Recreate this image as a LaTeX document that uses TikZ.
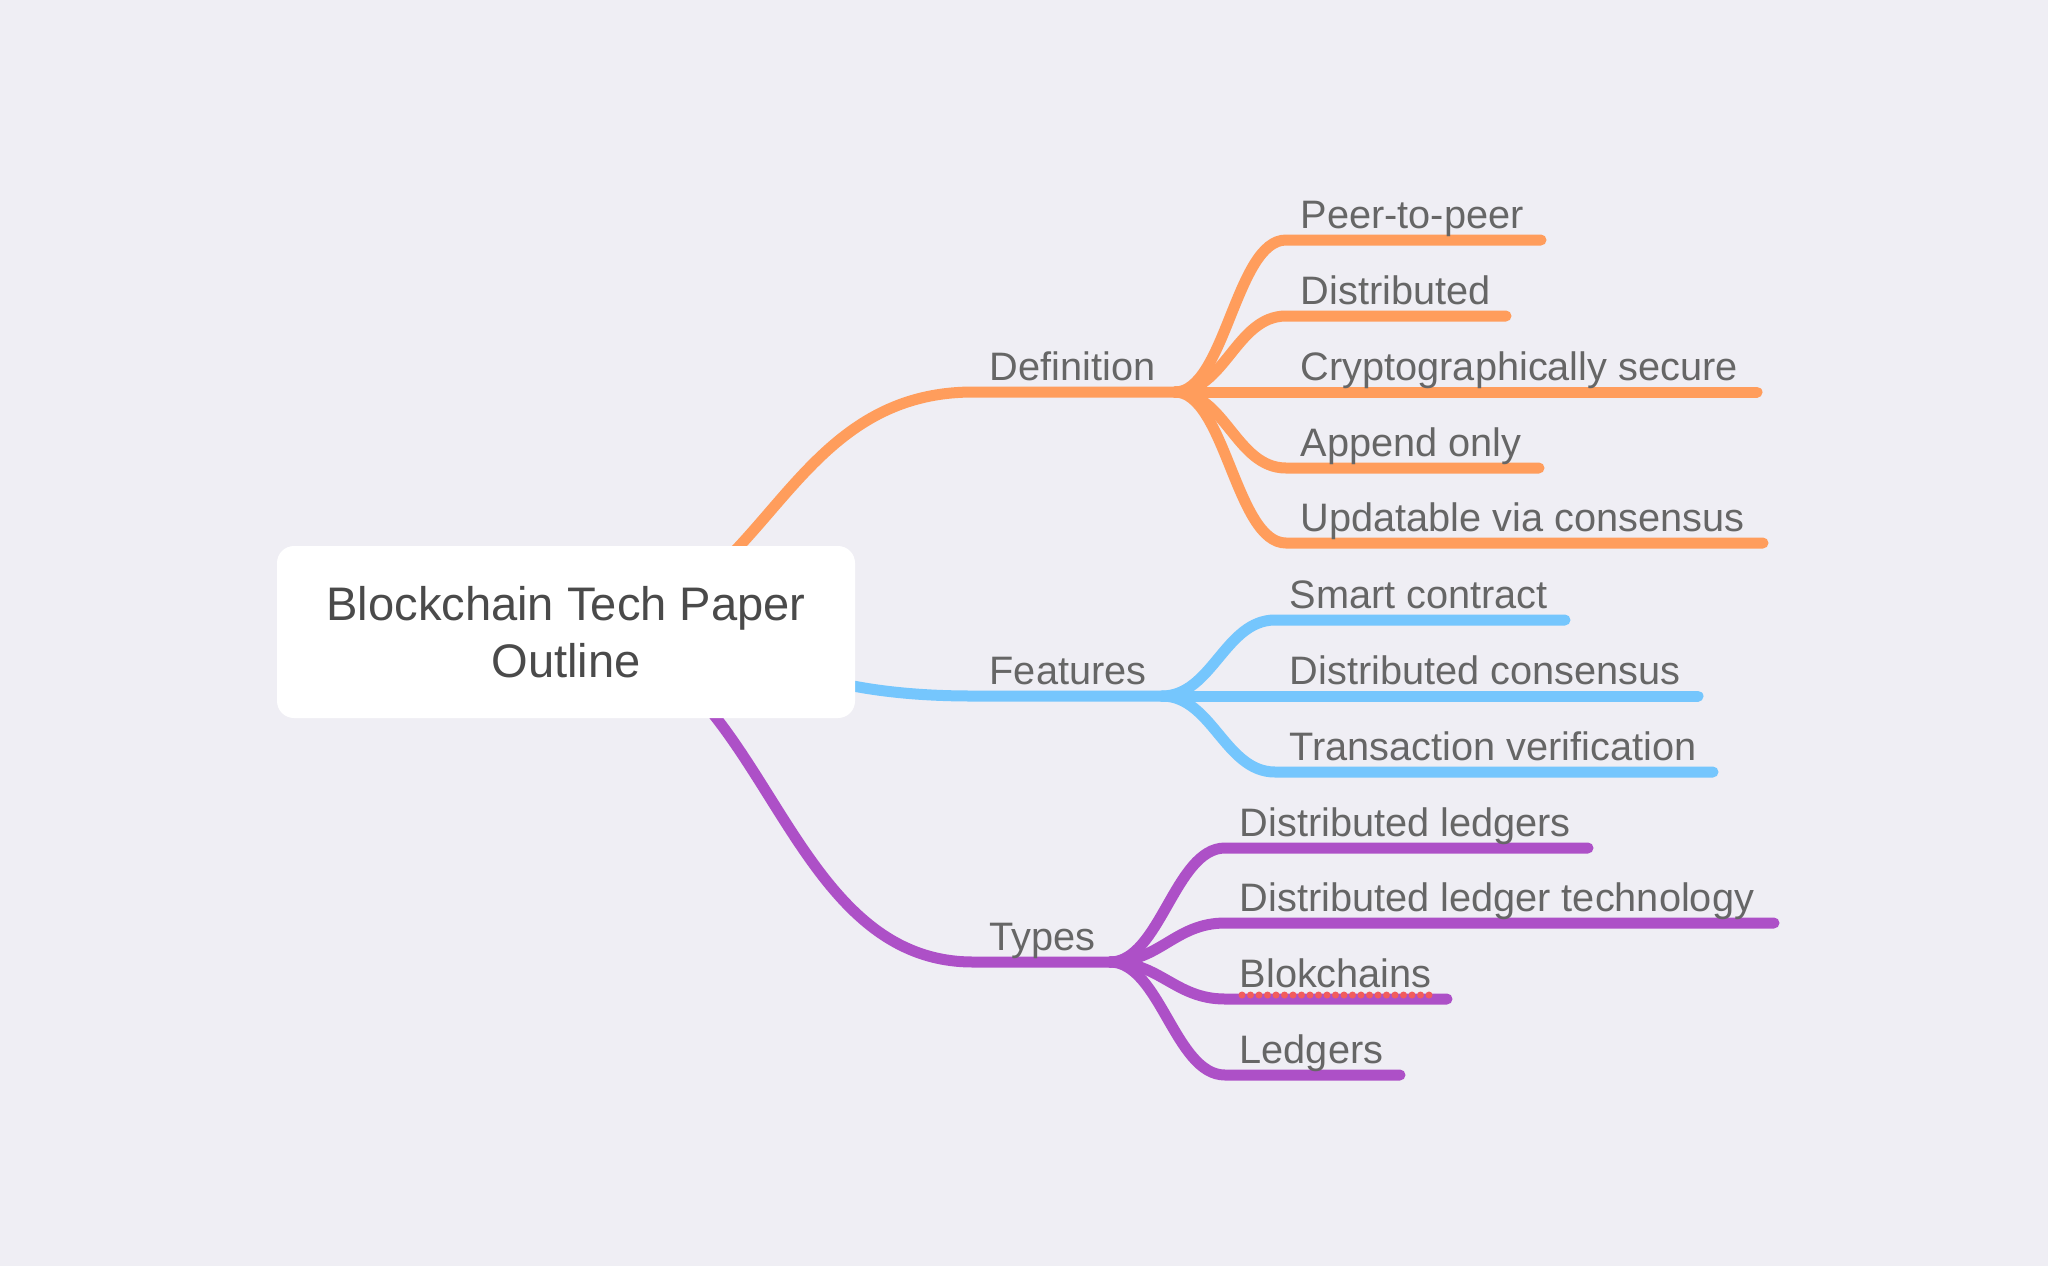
\documentclass[tikz,border=0pt]{standalone}
\usepackage{fontspec}
\setmainfont{Liberation Sans}
\usetikzlibrary{positioning, calc}
\definecolor{bgcol}{HTML}{EFEEF4}
\definecolor{defcol}{HTML}{FF9D5C}
\definecolor{featcol}{HTML}{75C6FD}
\definecolor{typecol}{HTML}{AD50C7}
\definecolor{topicgray}{HTML}{666666}
\definecolor{rootgray}{HTML}{4A4A4A}
\definecolor{spellred}{HTML}{F25C5C}
\pgfdeclarelayer{back}
\pgfdeclarelayer{lines}
\pgfsetlayers{back,lines,main}
\tikzstyle{branch} = [line width=0.11cm, line cap=round]
\tikzstyle{topic} = [anchor=base west, inner sep=0pt, text=topicgray, font=\fontsize{11.3}{13.6}\selectfont]
\tikzstyle{rootbox} = [fill=white, rounded corners=0.17cm, minimum width=5.78cm, minimum height=1.72cm, align=center, text=rootgray, font=\fontsize{13.4}{16.3}\selectfont]
\tikzstyle{spell} = [spellred, line width=0.07cm, line cap=round, dash pattern=on 0pt off 0.085cm]

\begin{document}
\begin{tikzpicture}

	\begin{pgfonlayer}{back}
	\fill[bgcol] (0,0) rectangle (20.48,-12.66);
	\end{pgfonlayer}

	\node[rootbox] (outline) at (5.66,-6.32) {Blockchain Tech Paper\\Outline};

	\coordinate (def) at (9.73,-3.92);
	\coordinate (feat) at (9.73,-6.96);
	\coordinate (types) at (9.73,-9.62);

	\newcommand{\TOPIC}[4]{\node[topic] (#2-text) at ($ (#2) + (0.16,0.12) $) {#4};\begin{pgfonlayer}{lines}\draw[branch,#1] (outline.center) .. controls ($ (outline.center) + (2,0) $) and ($ (#2) + (-2,0) $) .. (#2) -- (#3,0 |- #2) coordinate (#2-join);\end{pgfonlayer}}

	\newcommand{\LEAF}[6]{\coordinate (#3) at (#4);\node[topic] (#3-text) at ($ (#3) + (0.14,0.12) $) {#6};\begin{pgfonlayer}{lines}\draw[branch,#1] (#2) .. controls ($ (#2) + (0.5,0) $) and ($ (#3) + (-0.5,0) $) .. (#3) -- (#5,0 |- #3);\end{pgfonlayer}}

	\TOPIC{defcol}{def}{11.75}{Definition}
	\TOPIC{featcol}{feat}{11.62}{Features}
	\TOPIC{typecol}{types}{11.10}{Types}

	\LEAF{defcol}{def-join}{peer}{12.86,-2.40}{15.41}{Peer-to-peer}
	\LEAF{defcol}{def-join}{distr}{12.86,-3.16}{15.06}{Distributed}
	\LEAF{defcol}{def-join}{crypto}{12.86,-3.92}{17.57}{Cryptographically secure}
	\LEAF{defcol}{def-join}{append}{12.86,-4.68}{15.39}{Append only}
	\LEAF{defcol}{def-join}{update}{12.86,-5.43}{17.63}{Updatable via consensus}

	\LEAF{featcol}{feat-join}{smart}{12.75,-6.20}{15.65}{Smart contract}
	\LEAF{featcol}{feat-join}{consensus}{12.75,-6.96}{16.98}{Distributed consensus}
	\LEAF{featcol}{feat-join}{verify}{12.75,-7.72}{17.13}{Transaction verification}

	\LEAF{typecol}{types-join}{ledgers}{12.25,-8.48}{15.88}{Distributed ledgers}
	\LEAF{typecol}{types-join}{dlt}{12.25,-9.23}{17.74}{Distributed ledger technology}
	\LEAF{typecol}{types-join}{blok}{12.25,-9.99}{14.47}{Blokchains}
	\LEAF{typecol}{types-join}{ledger}{12.25,-10.75}{14.00}{Ledgers}

	\draw[spell] ($ (blok-text.base west) + (0.03,-0.08) $) -- ($ (blok-text.base east) + (0,-0.08) $);

\end{tikzpicture}
\end{document}
